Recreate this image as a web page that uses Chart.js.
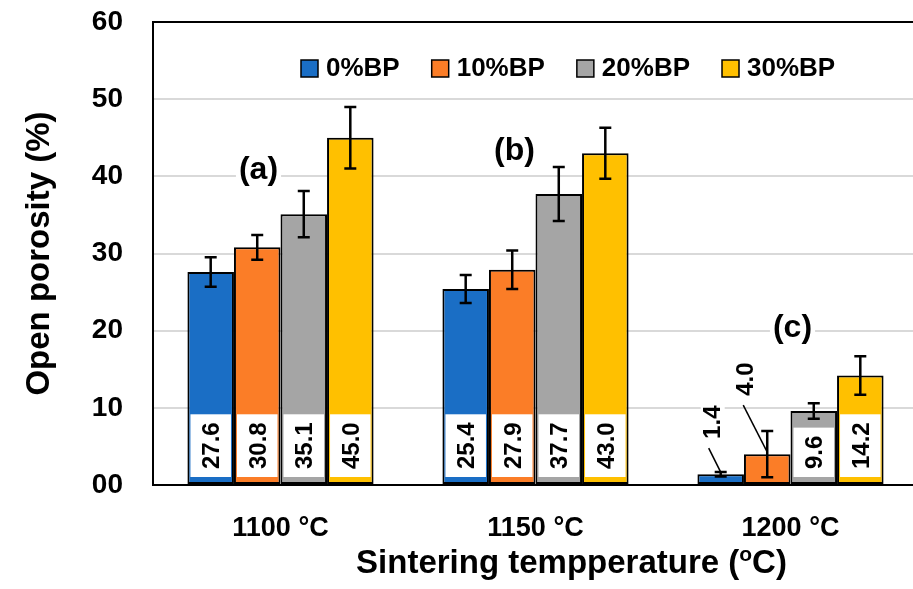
<!DOCTYPE html>
<html lang="en">
  <head>
    <meta charset="UTF-8" />
    <title>Open porosity vs sintering temperature</title>
    <script src="https://cdn.jsdelivr.net/npm/chart.js"></script>
    <style>
      html,
      body {
        margin: 0;
        padding: 0;
        overflow: hidden;
        background: #fff;
      }
      canvas {
        display: block;
      }
    </style>
  </head>
  <body>
    <canvas id="porosityChart" width="918" height="589"></canvas>
    <script>
      // data
      const temperatures = ["1100 °C", "1150 °C", "1200 °C"];
      const seriesNames = ["0%BP", "10%BP", "20%BP", "30%BP"];
      const bp0 = [27.6, 25.4, 1.4];
      const bp10 = [30.8, 27.9, 4.0];
      const bp20 = [35.1, 37.7, 9.6];
      const bp30 = [45.0, 43.0, 14.2];
      const err0 = [1.9, 1.8, 0.3];
      const err10 = [1.6, 2.5, 3.0];
      const err20 = [3.0, 3.5, 1.0];
      const err30 = [4.0, 3.3, 2.5];
      const groupTags = ["(a)", "(b)", "(c)"];
      const yTicks = [0, 10, 20, 30, 40, 50, 60];

      const FONT = "'Liberation Sans', Arial, sans-serif";
      const colors = ["#1a6ec5", "#fb7d27", "#a5a5a5", "#ffc000"];
      const errors = [err0, err10, err20, err30];

      // where the group tags sit (offset from group centre, value on y)
      const tagSpots = [
        { dx: -22, v: 40.8 },
        { dx: -21, v: 43.2 },
        { dx: 2, v: 20.3 },
      ];
      // labels of small bars put above the bar with a leader line
      const outsideLabels = {
        "0-2": { dx: -8, dy: -52, lx: -12, ly: -26 },
        "1-2": { dx: -22, dy: -75, lx: -24, ly: -49 },
      };

      const overlay = {
        id: "overlay",
        afterDatasetsDraw(chart) {
          const ctx = chart.ctx;
          const ys = chart.scales.y;
          const xs = chart.scales.x;
          const area = chart.chartArea;
          ctx.save();

          // value labels in white boxes
          chart.data.datasets.forEach((ds, di) => {
            const meta = chart.getDatasetMeta(di);
            meta.data.forEach((bar, i) => {
              const text = ds.data[i].toFixed(1);
              ctx.font = "bold 24px " + FONT;
              const tw = ctx.measureText(text).width;
              const out = outsideLabels[di + "-" + i];
              let cx, cy;
              if (out) {
                cx = bar.x + out.dx;
                cy = bar.y + out.dy;
                ctx.fillStyle = "#fff";
                ctx.fillRect(cx - 12, cy - tw / 2 - 4, 24, tw + 8);
                ctx.strokeStyle = "#000";
                ctx.lineWidth = 1.5;
                ctx.beginPath();
                ctx.moveTo(bar.x + out.lx, bar.y + out.ly);
                ctx.lineTo(bar.x, bar.y - 2);
                ctx.stroke();
              } else {
                const bottom = area.bottom - 8;
                const top = bottom - tw - 16;
                ctx.fillStyle = "#fff";
                ctx.fillRect(
                  bar.x - bar.width / 2 + 3,
                  top,
                  bar.width - 6,
                  bottom - top
                );
                cx = bar.x + 1;
                cy = (top + bottom) / 2;
              }
              ctx.save();
              ctx.translate(cx, cy);
              ctx.rotate(-Math.PI / 2);
              ctx.fillStyle = "#000";
              ctx.textAlign = "center";
              ctx.textBaseline = "middle";
              ctx.fillText(text, 0, 1);
              ctx.restore();
            });
          });

          // error bars
          ctx.strokeStyle = "#000";
          ctx.lineWidth = 2.5;
          chart.data.datasets.forEach((ds, di) => {
            const meta = chart.getDatasetMeta(di);
            meta.data.forEach((bar, i) => {
              const v = ds.data[i];
              const e = errors[di][i];
              const t = ys.getPixelForValue(v + e);
              const b = ys.getPixelForValue(v - e);
              ctx.beginPath();
              ctx.moveTo(bar.x, t);
              ctx.lineTo(bar.x, b);
              ctx.moveTo(bar.x - 6, t);
              ctx.lineTo(bar.x + 6, t);
              ctx.moveTo(bar.x - 6, b);
              ctx.lineTo(bar.x + 6, b);
              ctx.stroke();
            });
          });

          // group tags (a) (b) (c)
          ctx.font = "bold 32px " + FONT;
          ctx.textAlign = "center";
          ctx.textBaseline = "middle";
          groupTags.forEach((tag, i) => {
            const gx = xs.getPixelForValue(i) + tagSpots[i].dx;
            const gy = ys.getPixelForValue(tagSpots[i].v);
            const w = ctx.measureText(tag).width;
            ctx.fillStyle = "#fff";
            ctx.fillRect(gx - w / 2 - 3, gy - 18, w + 6, 36);
            ctx.fillStyle = "#000";
            ctx.fillText(tag, gx, gy);
          });
          ctx.restore();
        },
        afterDraw(chart) {
          const ctx = chart.ctx;
          const area = chart.chartArea;
          ctx.save();

          // legend
          ctx.font = "bold 26px " + FONT;
          ctx.textBaseline = "middle";
          ctx.textAlign = "left";
          let lx = area.left + 148;
          const ly = area.top + 46;
          seriesNames.forEach((name, i) => {
            ctx.fillStyle = colors[i];
            ctx.fillRect(lx, ly - 8, 17, 17);
            ctx.strokeStyle = "#000";
            ctx.lineWidth = 1.5;
            ctx.strokeRect(lx, ly - 8, 17, 17);
            ctx.fillStyle = "#000";
            ctx.fillText(name, lx + 25, ly + 1);
            lx += 25 + ctx.measureText(name).width + 32;
          });

          // x axis title with superscript o
          const p1 = "Sintering tempperature (";
          const p2 = "o";
          const p3 = "C)";
          ctx.font = "bold 33px " + FONT;
          const w1 = ctx.measureText(p1).width;
          const w3 = ctx.measureText(p3).width;
          ctx.font = "bold 21px " + FONT;
          const w2 = ctx.measureText(p2).width;
          const total = w1 + w2 + w3;
          let tx = (area.left + area.right) / 2 + 36 - total / 2;
          const ty = 573;
          ctx.textBaseline = "alphabetic";
          ctx.fillStyle = "#000";
          ctx.font = "bold 33px " + FONT;
          ctx.fillText(p1, tx, ty);
          tx += w1;
          ctx.font = "bold 21px " + FONT;
          ctx.fillText(p2, tx, ty - 12);
          tx += w2;
          ctx.font = "bold 33px " + FONT;
          ctx.fillText(p3, tx, ty);
          ctx.restore();
        },
      };

      const datasets = [bp0, bp10, bp20, bp30].map((values, i) => ({
        label: seriesNames[i],
        data: values,
        backgroundColor: colors[i],
        borderColor: "#000",
        borderWidth: 2,
        borderSkipped: false,
        categoryPercentage: 0.73,
        barPercentage: 1.0,
      }));

      new Chart(document.getElementById("porosityChart"), {
        type: "bar",
        data: { labels: temperatures, datasets: datasets },
        plugins: [overlay],
        options: {
          responsive: false,
          animation: false,
          layout: { padding: { top: 22, right: 0, left: 0, bottom: 0 } },
          plugins: {
            legend: { display: false },
            tooltip: { enabled: false },
          },
          scales: {
            x: {
              grid: { display: false },
              border: { color: "#000", width: 2 },
              ticks: {
                color: "#000",
                padding: 19,
                font: { family: FONT, size: 27, weight: "bold" },
              },
              afterFit(scale) {
                scale.height = 104;
                scale.paddingLeft = 0;
                scale.paddingRight = 0;
              },
            },
            y: {
              min: 0,
              max: 60,
              afterBuildTicks(scale) {
                scale.ticks = yTicks.map((v) => ({ value: v }));
              },
              grid: {
                drawTicks: false,
                lineWidth: 2,
                color: (c) => (c.tick && c.tick.value === 60 ? "#000" : "#d9d9d9"),
              },
              border: { color: "#000", width: 2 },
              ticks: {
                color: "#000",
                padding: 30,
                font: { family: FONT, size: 28, weight: "bold" },
                callback: (v) => (v === 0 ? "00" : String(v)),
              },
              title: {
                display: true,
                text: "Open porosity (%)",
                color: "#000",
                padding: { top: 20, bottom: 20 },
                font: { family: FONT, size: 33, weight: "bold" },
              },
              afterFit(scale) {
                scale.width = 153;
                scale.paddingTop = 0;
                scale.paddingBottom = 0;
              },
            },
          },
        },
      });
    </script>
  </body>
</html>
